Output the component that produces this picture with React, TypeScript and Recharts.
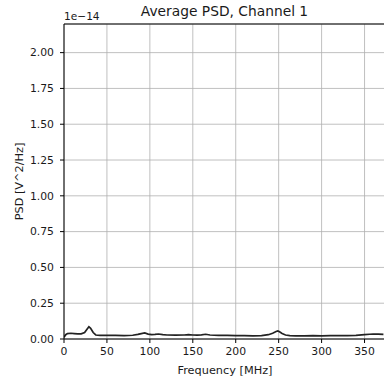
import {
  LineChart,
  Line,
  XAxis,
  YAxis,
  CartesianGrid,
  ReferenceLine
} from 'recharts'

// frequency in MHz, PSD in units of 1e-14 V^2/Hz
const freqs = [
  0, 2, 4, 8, 12, 16, 20, 24, 27, 29, 31, 34, 37, 42, 50, 60, 70, 80, 86, 90,
  94, 98, 102, 106, 110, 115, 120, 130, 140, 145, 150, 155, 160, 165, 170, 180,
  190, 200, 210, 220, 230, 238, 243, 247, 249, 251, 254, 258, 263, 270, 280,
  290, 300, 310, 320, 330, 340, 350, 356, 360, 366, 372
]
const psd = [
  0.012, 0.03, 0.038, 0.04, 0.038, 0.036, 0.036, 0.045, 0.07, 0.086, 0.075,
  0.045, 0.028, 0.026, 0.026, 0.025, 0.024, 0.026, 0.032, 0.038, 0.042, 0.034,
  0.03, 0.032, 0.035, 0.03, 0.028, 0.027, 0.028, 0.031, 0.028, 0.027, 0.029,
  0.033, 0.028, 0.026, 0.025, 0.024, 0.023, 0.022, 0.024, 0.03, 0.04, 0.052,
  0.056, 0.05, 0.038, 0.028, 0.024, 0.022, 0.022, 0.023, 0.022, 0.023, 0.024,
  0.024, 0.026, 0.03, 0.033, 0.035, 0.034, 0.032
]
const xTicks = [0, 50, 100, 150, 200, 250, 300, 350]
const yTicks = [0, 0.25, 0.5, 0.75, 1, 1.25, 1.5, 1.75, 2]

const data = freqs.map((f, i) => ({ f, v: psd[i] }))

const font = '"DejaVu Sans", sans-serif'
const ink = '#1a1a1a'
const tickStyle = { fill: ink, fontSize: 10.8, fontFamily: font }
const labelStyle = { fill: ink, fontSize: 11.3, fontFamily: font }

export default function App() {
  return (
    <div
      style={{
        position: 'absolute',
        left: 0,
        top: 0,
        width: 384,
        height: 376,
        overflow: 'hidden',
        background: '#fff',
        fontFamily: font
      }}
    >
      <div
        style={{
          position: 'absolute',
          left: 0,
          width: 449,
          top: 3,
          textAlign: 'center',
          fontSize: 13.8,
          color: ink
        }}
      >
        Average PSD, Channel 1
      </div>
      <div style={{ position: 'absolute', left: 64, top: 10, fontSize: 10.6, color: ink }}>
        1e−14
      </div>
      <LineChart
        width={400}
        height={376}
        data={data}
        margin={{ top: 24, right: 14, bottom: 0, left: 0 }}
      >
        <CartesianGrid stroke="#b0b0b0" strokeWidth={0.8} />
        <XAxis
          dataKey="f"
          type="number"
          domain={[0, 375]}
          ticks={xTicks}
          allowDataOverflow
          height={37}
          stroke="#000"
          tickSize={4}
          tickMargin={4}
          tick={tickStyle}
          label={{
            value: 'Frequency [MHz]',
            position: 'insideBottom',
            offset: 2,
            style: labelStyle
          }}
        />
        <YAxis
          type="number"
          domain={[0, 2.2]}
          ticks={yTicks}
          allowDataOverflow
          width={64}
          stroke="#000"
          tickSize={4}
          tickMargin={6}
          tick={tickStyle}
          tickFormatter={(v: number) => v.toFixed(2)}
          label={{
            value: 'PSD [V^2/Hz]',
            angle: -90,
            position: 'insideLeft',
            offset: 19,
            style: { ...labelStyle, textAnchor: 'middle' }
          }}
        />
        <ReferenceLine y={2.2} stroke="#000" />
        <Line
          type="linear"
          dataKey="v"
          stroke="#222"
          strokeWidth={1.7}
          dot={false}
          isAnimationActive={false}
        />
      </LineChart>
    </div>
  )
}
